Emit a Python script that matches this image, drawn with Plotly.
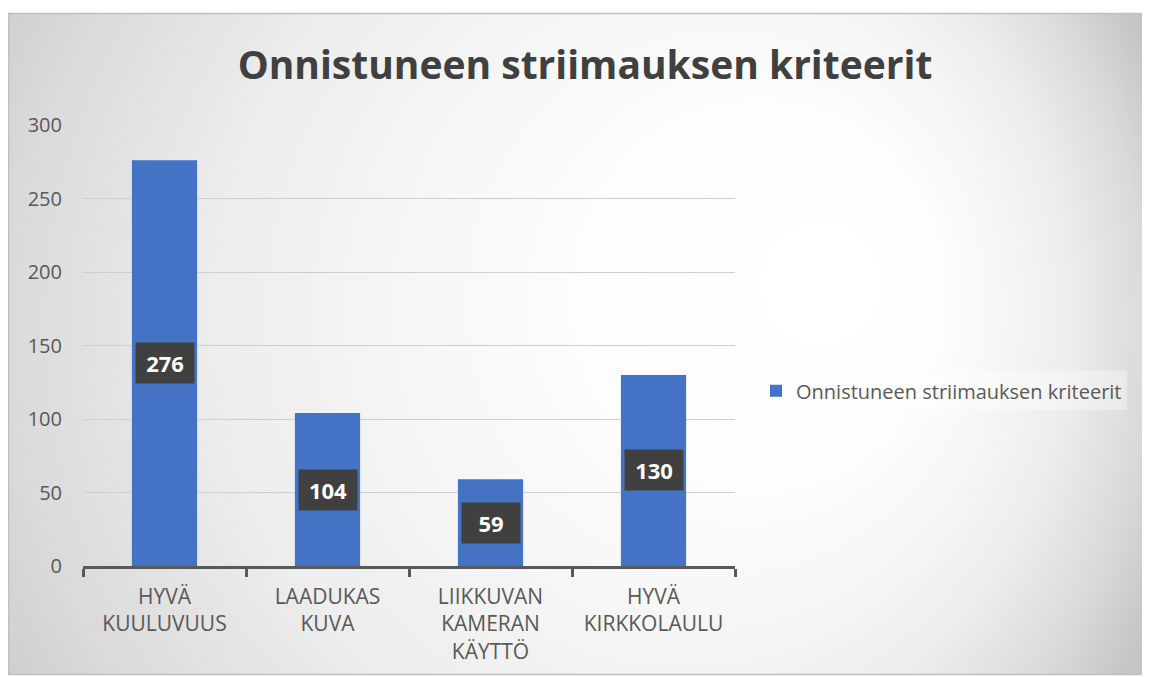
import base64
import plotly.graph_objects as go

categories = ["HYVÄ<br>KUULUVUUS", "LAADUKAS<br>KUVA", "LIIKKUVAN<br>KAMERAN<br>KÄYTTÖ", "HYVÄ<br>KIRKKOLAULU"]
values = [276, 104, 59, 130]
series_name = "Onnistuneen striimauksen kriteerit"
title_text = "Onnistuneen striimauksen kriteerit"
y_ticks = [0, 50, 100, 150, 200, 250, 300]

OFF = 8  # page body margin
W, H = 1142, 669
L, R, T, B = 75, 415, 117, 109
pw, ph = W - L - R, H - T - B

def px_x(p):
    return (p - OFF - L) / pw

def px_y(p):
    return (H - B - (p - OFF)) / ph

# background gradient (box coords: page x 6..1147, y 13..677)
svg = """<svg xmlns='http://www.w3.org/2000/svg' width='1141' height='664' viewBox='0 0 1141 664' preserveAspectRatio='none'>
<defs><radialGradient id='g' gradientUnits='userSpaceOnUse' cx='0' cy='0' r='1' fx='0.4807' fy='-0.0833'
 gradientTransform='translate(515.2 327) scale(684 720)'>
<stop offset='0' stop-color='#ffffff'/>
<stop offset='0.25' stop-color='#fdfdfd'/>
<stop offset='0.417' stop-color='#f7f7f7'/>
<stop offset='0.625' stop-color='#ededed'/>
<stop offset='0.833' stop-color='#dadada'/>
<stop offset='0.958' stop-color='#cacaca'/>
<stop offset='1' stop-color='#c5c5c5'/>
</radialGradient></defs>
<rect width='1141' height='664' fill='url(#g)'/></svg>"""
img_src = "data:image/svg+xml;base64," + base64.b64encode(svg.encode()).decode()

fig = go.Figure()
fig.add_trace(go.Bar(
    x=categories, y=values, name=series_name,
    marker=dict(color="#4472C4", line=dict(width=0)),
    width=0.4, showlegend=True,
))

annotations = []
for c, v in zip(categories, values):
    annotations.append(dict(
        x=c, y=v / 2, xref="x", yref="y", text=f"<b>{v}</b>", showarrow=False,
        font=dict(family="Open Sans", size=22, color="white"),
        bgcolor="#404040", width=46, height=28, borderpad=6,
    ))

fig.update_layout(
    width=W, height=H,
    margin=dict(l=L, r=R, t=T, b=B),
    paper_bgcolor="white", plot_bgcolor="rgba(0,0,0,0)",
    title=dict(text=f"<b>{title_text}</b>", x=(585 - OFF) / W, xanchor="center",
               y=1 - (65 - OFF) / H, yanchor="middle",
               font=dict(family="Open Sans", size=39, color="#404040")),
    images=[dict(source=img_src, xref="paper", yref="paper",
                 x=px_x(6), y=px_y(13), sizex=px_x(1147) - px_x(6), sizey=px_y(13) - px_y(677),
                 xanchor="left", yanchor="top", sizing="stretch", layer="below")],
    shapes=[dict(type="rect", xref="paper", yref="paper",
                 x0=px_x(8.5), x1=px_x(1147), y0=px_y(13), y1=px_y(677),
                 line=dict(color="#bfbfbf", width=1.5), layer="below")],
    annotations=annotations,
    legend=dict(x=px_x(756), y=px_y(392), xanchor="left", yanchor="middle",
                bgcolor="rgba(255,255,255,0.35)", font=dict(family="Open Sans", size=20, color="#595959"),
                itemsizing="constant"),
    xaxis=dict(
        showgrid=False, showline=True, linecolor="#595959", linewidth=2.5,
        ticks="outside", tickson="boundaries", ticklen=8, tickwidth=2.5, tickcolor="#595959",
        tickfont=dict(family="Open Sans", size=21, color="#595959"),
        ticklabelstandoff=10,
    ),
    yaxis=dict(
        range=[0, 300], tickvals=y_ticks, showgrid=True, gridcolor="#cfcfcf", gridwidth=1,
        zeroline=False, showline=False,
        tickfont=dict(family="Open Sans", size=20, color="#595959"),
        ticklabelstandoff=20,
    ),
    bargap=0.6,
)

fig.write_html("out.html")
